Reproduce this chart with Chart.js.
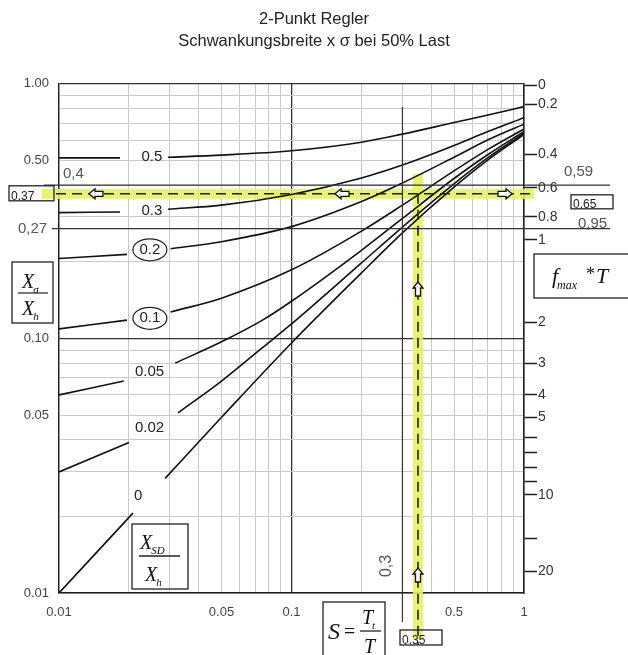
<!DOCTYPE html>
<html lang="de">
<head>
<meta charset="UTF-8">
<title>2-Punkt Regler</title>
<script src="https://cdn.jsdelivr.net/npm/chart.js@4.4.1/dist/chart.umd.min.js"></script>
<style>
  body { margin: 0; background: #fff; }
  #wrap { width: 628px; height: 655px; }
</style>
</head>
<body>
<div id="wrap"><canvas id="chart" width="628" height="655"></canvas></div>
<script>
// curves Xsd/Xh: S = Tt/T  ->  Xsigma/Xh  (null = gap for the label)
const curveNames = ['0.5', '0.3', '0.2', '0.1', '0.05', '0.02', '0'];

const s05 = [0.01, 0.0183, 0.024, 0.0294, 0.05, 0.1, 0.2, 0.3, 0.5, 0.7, 1];
const y05 = [0.512, 0.512, null, 0.515, 0.525, 0.546, 0.59, 0.635, 0.705, 0.755, 0.814];

const s03 = [0.01, 0.0183, 0.024, 0.0294, 0.05, 0.1, 0.2, 0.3, 0.5, 0.7, 1];
const y03 = [0.312, 0.314, null, 0.322, 0.334, 0.368, 0.427, 0.48, 0.573, 0.65, 0.737];

const s02 = [0.01, 0.0196, 0.025, 0.0302, 0.05, 0.1, 0.2, 0.3, 0.5, 0.7, 1];
const y02 = [0.206, 0.214, null, 0.225, 0.24, 0.275, 0.345, 0.408, 0.515, 0.603, 0.695];

const s01 = [0.01, 0.0196, 0.025, 0.0302, 0.05, 0.1, 0.2, 0.3, 0.5, 0.7, 1];
const y01 = [0.109, 0.118, null, 0.127, 0.144, 0.186, 0.264, 0.334, 0.455, 0.553, 0.665];

const s005 = [0.01, 0.019, 0.025, 0.0316, 0.05, 0.075, 0.1, 0.2, 0.3, 0.5, 0.7, 1];
const y005 = [0.06, 0.068, null, 0.08, 0.097, 0.118, 0.14, 0.222, 0.296, 0.425, 0.528, 0.65];

const s002 = [0.01, 0.02, 0.026, 0.0325, 0.05, 0.075, 0.1, 0.2, 0.3, 0.5, 0.7, 1];
const y002 = [0.0299, 0.039, null, 0.051, 0.068, 0.092, 0.114, 0.198, 0.274, 0.405, 0.513, 0.64];

const s0 = [0.01, 0.0208, 0.0245, 0.0286, 0.05, 0.1, 0.2, 0.3, 0.5, 0.7, 1];
const y0 = [0.01, 0.0206, null, 0.0282, 0.049, 0.096, 0.181, 0.26, 0.393, 0.503, 0.632];

// grid + tick labels
const xGrid = [0.01, 0.02, 0.03, 0.04, 0.05, 0.06, 0.07, 0.08, 0.09, 0.1, 0.2, 0.3, 0.4, 0.5, 0.6, 0.7, 0.8, 0.9, 1];
const xLabelVals = [0.01, 0.05, 0.1, 0.5, 1];
const xLabels = ['0.01', '0.05', '0.1', '0.5', '1'];
const yGrid = [0.01, 0.02, 0.03, 0.04, 0.05, 0.06, 0.07, 0.08, 0.09, 0.1, 0.2, 0.3, 0.4, 0.5, 0.6, 0.7, 0.8, 0.9, 1];
const yLabelVals = [0.01, 0.05, 0.1, 0.5, 1];
const yLabels = ['0.01', '0.05', '0.10', '0.50', '1.00'];

// right scale f_max*T, where each mark sits on the Xsigma/Xh scale
const fTPos = [0.99, 0.83, 0.53, 0.39, 0.30, 0.244, 0.116, 0.080, 0.060, 0.049, 0.041, 0.0355, 0.031, 0.0275, 0.0243, 0.0164, 0.0122];
const fTLabels = ['0', '0.2', '0.4', '0.6', '0.8', '1', '2', '3', '4', '5', '', '', '', '', '10', '', '20'];

// worked example
const exS = 0.35, exX = 0.37, exF = 0.65;
const refY1 = 0.4, refY2 = 0.27, refS = 0.3;

const curveS = [s05, s03, s02, s01, s005, s002, s0];
const curveY = [y05, y03, y02, y01, y005, y002, y0];

const datasets = curveNames.map((name, i) => ({
  label: name,
  data: curveS[i].map((s, j) => ({ x: s, y: curveY[i][j] })),
  borderColor: '#111',
  borderWidth: 1.6,
  pointRadius: 0,
  cubicInterpolationMode: 'monotone',
  spanGaps: false
}));

const FONT = "'Liberation Sans', Arial, sans-serif";
const SERIF = "'Liberation Serif', 'Times New Roman', serif";

function darkAt(v) {
  return Math.abs(v - 0.1) < 1e-9 || Math.abs(v - 1) < 1e-9 || Math.abs(v - 0.01) < 1e-9;
}

function arrow(ctx, x, y, dir) {
  ctx.save();
  ctx.translate(x, y);
  ctx.rotate({ left: Math.PI, right: 0, up: -Math.PI / 2 }[dir]);
  ctx.beginPath();
  ctx.moveTo(-7, -2.5);
  ctx.lineTo(1, -2.5);
  ctx.lineTo(1, -5);
  ctx.lineTo(7, 0);
  ctx.lineTo(1, 5);
  ctx.lineTo(1, 2.5);
  ctx.lineTo(-7, 2.5);
  ctx.closePath();
  ctx.fillStyle = '#fff';
  ctx.fill();
  ctx.lineWidth = 1.3;
  ctx.strokeStyle = '#111';
  ctx.stroke();
  ctx.restore();
}

function sub(ctx, main, subTxt, x, y, size) {
  ctx.font = 'italic ' + size + 'px ' + SERIF;
  ctx.fillText(main, x, y);
  const w = ctx.measureText(main).width;
  ctx.font = 'italic ' + Math.round(size * 0.55) + 'px ' + SERIF;
  ctx.fillText(subTxt, x + w - 1, y + size * 0.25);
}

function box(ctx, x, y, w, h) {
  ctx.strokeStyle = '#222';
  ctx.lineWidth = 1.3;
  ctx.strokeRect(x, y, w, h);
}

const highlight = {
  id: 'highlight',
  beforeDatasetsDraw(chart) {
    const ctx = chart.ctx;
    const px = chart.scales.x.getPixelForValue(exS);
    const py = chart.scales.y.getPixelForValue(exX);
    ctx.save();
    ctx.fillStyle = 'rgba(230,242,100,0.9)';
    ctx.fillRect(42, py - 5, 492, 10);
    ctx.fillRect(px - 5, py - 20, 10, 660 - py);
    ctx.restore();
  },
  afterDatasetsDraw(chart) {
    const ctx = chart.ctx;
    const xs = chart.scales.x, ys = chart.scales.y;
    const px = xs.getPixelForValue(exS);
    const py = ys.getPixelForValue(exX);
    ctx.save();

    // reference lines
    ctx.strokeStyle = '#333';
    ctx.lineWidth = 1.2;
    ctx.beginPath();
    const y1 = ys.getPixelForValue(refY1), y2 = ys.getPixelForValue(refY2), x3 = xs.getPixelForValue(refS);
    ctx.moveTo(44, y1); ctx.lineTo(610, y1);
    ctx.moveTo(52, y2); ctx.lineTo(610, y2);
    ctx.moveTo(x3, 107); ctx.lineTo(x3, 622);
    ctx.stroke();

    // dashed example path
    ctx.strokeStyle = '#222';
    ctx.lineWidth = 1.6;
    ctx.setLineDash([10, 6]);
    ctx.beginPath();
    ctx.moveTo(56, py); ctx.lineTo(530, py);
    ctx.moveTo(px, py); ctx.lineTo(px, 645);
    ctx.stroke();
    ctx.setLineDash([]);

    arrow(ctx, 96, py, 'left');
    arrow(ctx, 342, py, 'left');
    arrow(ctx, 505, py, 'right');
    arrow(ctx, px, 289, 'up');
    arrow(ctx, px, 575, 'up');

    // curve labels
    ctx.fillStyle = '#222';
    ctx.font = '15px ' + FONT;
    ctx.textAlign = 'center';
    ctx.textBaseline = 'middle';
    const lbl = [
      ['0.5', 0.0251, 0.517], ['0.3', 0.0251, 0.317], ['0.2', 0.0246, 0.223], ['0.1', 0.0246, 0.12],
      ['0.05', 0.0245, 0.0739], ['0.02', 0.0245, 0.0445], ['0', 0.0219, 0.024]
    ];
    lbl.forEach(([t, sx, sy]) => {
      const lx = xs.getPixelForValue(sx), ly = ys.getPixelForValue(sy);
      ctx.fillText(t, lx, ly);
      if (t === '0.2' || t === '0.1') {
        ctx.beginPath();
        ctx.ellipse(lx, ly, 17, 11, 0, 0, Math.PI * 2);
        ctx.lineWidth = 1.2;
        ctx.strokeStyle = '#222';
        ctx.stroke();
      }
    });

    // handwritten notes
    ctx.fillStyle = '#555';
    ctx.font = '15px ' + FONT;
    ctx.textAlign = 'left';
    ctx.fillText('0,4', 63, 174);
    ctx.fillText('0,27', 18, 229);
    ctx.fillText('0,59', 564, 172);
    ctx.fillText('0,95', 578, 224);
    ctx.save();
    ctx.translate(387, 566);
    ctx.rotate(-Math.PI / 2);
    ctx.textAlign = 'center';
    ctx.font = '16px ' + FONT;
    ctx.fillText('0,3', 0, 0);
    ctx.restore();

    // boxed readings
    ctx.fillStyle = '#222';
    ctx.font = '12px ' + FONT;
    ctx.textAlign = 'left';
    ctx.textBaseline = 'alphabetic';
    box(ctx, 9, py - 8, 45, 15);
    ctx.fillText('0.37', 11, py + 6);
    box(ctx, 571, py + 1, 42, 14);
    ctx.fillText('0.65', 573, py + 14);
    box(ctx, 400, 630, 42, 15);
    ctx.fillText('0.35', 402, 644);

    // formula boxes
    ctx.fillStyle = '#111';
    box(ctx, 12, 262, 41, 61);
    sub(ctx, 'X', 'σ', 22, 288, 20);
    ctx.beginPath(); ctx.moveTo(18, 293); ctx.lineTo(48, 293); ctx.lineWidth = 1.2; ctx.stroke();
    sub(ctx, 'X', 'h', 22, 315, 20);

    box(ctx, 534, 254, 100, 44);
    sub(ctx, 'f', 'max', 552, 283, 22);
    ctx.font = '18px ' + SERIF;
    ctx.fillText('*', 586, 280);
    ctx.font = 'italic 22px ' + SERIF;
    ctx.fillText('T', 596, 283);

    box(ctx, 132, 524, 56, 65);
    sub(ctx, 'X', 'SD', 140, 549, 20);
    ctx.beginPath(); ctx.moveTo(139, 556); ctx.lineTo(180, 556); ctx.stroke();
    sub(ctx, 'X', 'h', 145, 581, 20);

    box(ctx, 323, 602, 62, 60);
    ctx.font = 'italic 24px ' + SERIF;
    ctx.fillText('S', 328, 639);
    ctx.font = '20px ' + SERIF;
    ctx.fillText('=', 344, 638);
    sub(ctx, 'T', 't', 362, 624, 20);
    ctx.beginPath(); ctx.moveTo(360, 631); ctx.lineTo(381, 631); ctx.stroke();
    ctx.font = 'italic 20px ' + SERIF;
    ctx.fillText('T', 364, 653);

    ctx.restore();
  }
};

new Chart(document.getElementById('chart'), {
  type: 'line',
  data: { datasets },
  options: {
    responsive: false,
    animation: false,
    layout: { padding: 0 },
    plugins: {
      legend: { display: false },
      tooltip: { enabled: false },
      title: {
        display: true,
        text: ['2-Punkt Regler', 'Schwankungsbreite x σ bei 50% Last'],
        color: '#222',
        font: { family: FONT, size: 16.5, weight: 'normal', lineHeight: 1.3 },
        padding: { top: 9, bottom: 32 }
      }
    },
    scales: {
      x: {
        type: 'logarithmic',
        min: 0.01, max: 1,
        afterBuildTicks: s => { s.ticks = xGrid.map(v => ({ value: v })); },
        afterFit: s => { s.height = 62; },
        ticks: {
          autoSkip: false, maxRotation: 0, padding: 12,
          color: '#444', font: { family: FONT, size: 13 },
          callback: v => { const k = xLabelVals.findIndex(a => Math.abs(a - v) < 1e-9); return k >= 0 ? xLabels[k] : ''; }
        },
        grid: {
          drawTicks: false,
          color: c => darkAt(c.tick.value) ? '#333' : '#c9c9c9',
          lineWidth: c => darkAt(c.tick.value) ? 1.3 : 1
        },
        border: { color: '#222', width: 1.5 }
      },
      y: {
        type: 'logarithmic',
        position: 'left',
        min: 0.01, max: 1,
        afterBuildTicks: s => { s.ticks = yGrid.map(v => ({ value: v })); },
        afterFit: s => { s.width = 59; },
        ticks: {
          autoSkip: false, padding: 10,
          color: '#444', font: { family: FONT, size: 13 },
          callback: v => { const k = yLabelVals.findIndex(a => Math.abs(a - v) < 1e-9); return k >= 0 ? yLabels[k] : ''; }
        },
        grid: {
          drawTicks: false,
          color: c => darkAt(c.tick.value) ? '#333' : '#c9c9c9',
          lineWidth: c => darkAt(c.tick.value) ? 1.3 : 1
        },
        border: { color: '#222', width: 1.3 }
      },
      fT: {
        type: 'logarithmic',
        position: 'right',
        min: 0.01, max: 1,
        afterBuildTicks: s => { s.ticks = fTPos.map(v => ({ value: v })); },
        afterFit: s => { s.width = 104; },
        ticks: {
          autoSkip: false, padding: 1,
          color: '#333', font: { family: FONT, size: 14 },
          callback: (v, i) => fTLabels[i]
        },
        grid: { drawOnChartArea: false, drawTicks: true, tickLength: 13, color: '#222', tickWidth: 1.5 },
        border: { color: '#222', width: 1.5 }
      }
    }
  },
  plugins: [highlight]
});
</script>
</body>
</html>
